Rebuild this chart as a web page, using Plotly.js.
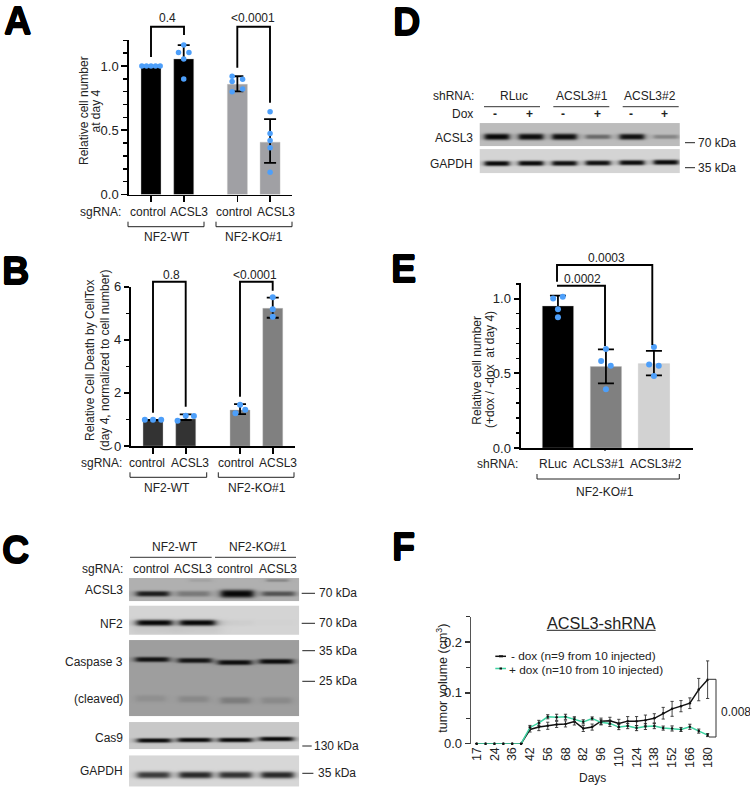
<!DOCTYPE html>
<html><head><meta charset="utf-8">
<script src="https://cdn.plot.ly/plotly-3.0.1.min.js"></script>
<style>html,body{margin:0;padding:0;background:#fff}</style></head>
<body><div id="chart" style="width:750px;height:787px"></div>
<script>
// ---------- Panel A ----------
const aPos = [1, 2, 3.64, 4.64];
const aMeans = [1.0, 1.055, 0.857, 0.407];
const aHigh = [1.0, 1.163, 0.92, 0.586];
const aLow = [1.0, 0.947, 0.803, 0.246];
const aDotGroup = [0,0,0,0,0, 1,1,1,1,1, 2,2,2,2,2, 3,3,3,3,3];
const aDotOffset = [-.28,-.14,0,.14,.28, 0,-.16,.16,0,0, -.16,.16,-.16,.16,-.16, 0,0,0,0,0];
const aDots = [1,1,1,1,1, 1.163,1.104,1.104,1.055,0.899, 0.92,0.897,0.879,0.82,0.799, 0.643,0.475,0.42,0.363,0.174];
// ---------- Panel B ----------
const bPos = [1, 2, 3.66, 4.66];
const bMeans = [0.98, 1.02, 1.356, 5.185];
const bHigh = [0.98, 1.19, 1.58, 5.59];
const bLow = [0.98, 0.98, 1.2, 4.83];
const bDotGroup = [0,0,0, 1,1,1, 2,2,2, 3,3,3];
const bDotOffset = [-.25,0,.25, -.25,0,.25, -.14,0,.16, 0,0,0];
const bDots = [.99,.99,.99, .954,1.14,1.13, 1.23,1.557,1.37, 5.6,5.15,4.87];
// ---------- Panel E ----------
const ePos = [1, 2, 3];
const eMeans = [0.951, 0.545, 0.565];
const eHigh = [1.02, 0.661, 0.65];
const eLow = [0.88, 0.433, 0.487];
const eDotGroup = [0,0,0,0, 1,1,1,1, 2,2,2,2];
const eDotOffset = [-.1,.1,0,0, 0,-.1,.1,0, 0,-.1,.1,0];
const eDots = [1.002,1.013,.929,.875, .663,.583,.551,.393, .676,.56,.551,.482];
// ---------- Panel F ----------
const days = [17,21,24,28,36,39,42,49,56,63,68,75,82,89,96,103,110,117,124,131,138,145,152,159,166,173,180];
const dayLabels = ['17','24','36','42','56','68','82','96','110','124','138','152','166','180'];
const minusDox = [0,0,0,0,0,0,.028,.0327,.0353,.038,.039,.0438,.03,.0327,.0444,.045,.04,.0444,.0444,.0464,.05,.06,.0686,.0739,.0797,.1065,.126];
const minusErr = [0,0,0,0,0,0,.005,.007,.007,.006,.006,.007,.006,.006,.006,.007,.008,.009,.009,.01,.009,.0115,.0147,.011,.0105,.022,.037];
const plusDox = [0,0,0,0,0,0,.032,.041,.053,.052,.053,.048,.043,.0497,.042,.04,.0327,.0346,.0307,.034,.0346,.0307,.03,.028,.0333,.0248,.017];
const plusErr = [0,0,0,0,0,0,.004,.005,.004,.006,.005,.005,.004,.003,.005,.006,.005,.005,.005,.006,.005,.004,.005,.004,.005,.004,.003];
// ---------- Blot band strengths, one value per lane ----------
const cAcsl3 = [.88, .32, 1, .55];
const cNf2 = [1, 1, .03, .01];
const cCasp = [.92, .9, .95, .95];
const cCleaved = [.12, .18, .28, .17];
const cCas9 = [.97, .97, .97, .98];
const cGapdh = [.8, .9, .85, .9];
const dLanes = [496.5, 530.5, 564, 597.5, 631.5, 665.5];
const dAcsl3 = [1, .97, .97, .45, .95, .3];
const dGapdh = [.98, .98, .95, .95, .97, .98];

const W = 750, H = 787;
const X = p => p / W, Y = p => 1 - p / H;
const INK = '#222222', DOT = '#4d9ffa';
const fontName = 'Liberation Sans, Arial, sans-serif';

const traces = [], shapes = [], anns = [];
const T = (text, x, y, o = {}) => anns.push({text, x: X(x), y: Y(y), xref: 'paper', yref: 'paper',
  xanchor: o.a || 'center', yanchor: 'middle', showarrow: false, textangle: o.rot || 0, borderpad: 0,
  font: Object.assign({family: fontName, size: o.size || 12, color: o.color || INK}, o.weight ? {weight: o.weight} : {}, o.shadow ? {shadow: o.shadow} : {})});
const L = (pts, w = 1.9, c = '#000') => shapes.push({type: 'path', xref: 'paper', yref: 'paper',
  path: pts.map((p, i) => (i ? 'L' : 'M') + X(p[0]) + ',' + Y(p[1])).join(' '), line: {width: w, color: c}, layer: 'above'});
const groupBracket = (x0, x1, y, up = 5) => L([[x0, y - up], [x0, y], [x1, y], [x1, y - up]], 1, '#222');

function bars(pos, means, high, low, colors, width, capw, dx, dy, dotGroup, dotOffset, dots, dotSize) {
  traces.push({type: 'bar', x: pos, y: means, width, xaxis: dx, yaxis: dy, hoverinfo: 'skip',
    marker: {color: colors, line: {color: 'rgba(190,190,190,.6)', width: .6}},
    error_y: {type: 'data', symmetric: false, array: high.map((h, i) => h - means[i]),
      arrayminus: low.map((l, i) => means[i] - l), color: '#000', thickness: 1.8, width: capw}});
  traces.push({type: 'scatter', mode: 'markers', x: dotGroup.map((g, i) => pos[g] + dotOffset[i]), y: dots,
    xaxis: dx, yaxis: dy, hoverinfo: 'skip', marker: {color: DOT, size: dotSize}});
}
bars(aPos, aMeans, aHigh, aLow, ['#000', '#000', '#a0a0a4', '#a0a0a4'], .61, 6, 'x', 'y', aDotGroup, aDotOffset, aDots, 5.5);
bars(bPos, bMeans, bHigh, bLow, ['#333', '#333', '#808080', '#808080'], .61, 6, 'x2', 'y2', bDotGroup, bDotOffset, bDots, 6);
bars(ePos, eMeans, eHigh, eLow, ['#000', '#808080', '#d2d2d2'], .65, 8, 'x3', 'y3', eDotGroup, eDotOffset, eDots, 6);

// panel F series
const idx = days.map((_, i) => i);
traces.push({type: 'scatter', mode: 'lines+markers', x: idx, y: minusDox, xaxis: 'x4', yaxis: 'y4', hoverinfo: 'skip', cliponaxis: false,
  line: {color: '#111', width: 1.5}, marker: {color: '#111', size: 2.5},
  error_y: {type: 'data', array: minusErr, color: '#333', thickness: .9, width: 1.6}});
traces.push({type: 'scatter', mode: 'lines+markers', x: idx, y: plusDox, xaxis: 'x4', yaxis: 'y4', hoverinfo: 'skip', cliponaxis: false,
  line: {color: '#3ed3a2', width: 1.5}, marker: {color: '#111', size: 2.5},
  error_y: {type: 'data', array: plusErr, color: '#222', thickness: .9, width: 1.6}});

// blots, drawn as heatmaps on a full-page hidden axis pair
function blot(x0, x1, y0, y1, bg, rows) {
  const z = [];
  for (let y = y0; y < y1; y += .5) {
    const row = [];
    for (let x = x0; x < x1; x += .5) {
      let v = bg;
      for (const r of rows) r.lanes.forEach((c, i) => {
        const dx = (x - c) / ((r.ws ? r.ws[i] : r.w) / 2), dy = (y - r.cy - (r.tilt ? r.tilt[i] : 0)) / (r.hs ? r.hs[i] : r.h);
        const s = Math.exp(-Math.pow(dy * dy, 1.4)) / (1 + Math.pow(dx * dx, 4));
        v -= (v - r.min) * r.s[i] * s;
      });
      row.push(v);
    }
    z.push(row);
  }
  traces.push({type: 'heatmap', z, x0, dx: .5, y0, dy: .5, xaxis: 'x5', yaxis: 'y5', zmin: 0, zmax: 255,
    colorscale: [[0, '#000'], [1, '#fff']], showscale: false, hoverinfo: 'skip', zsmooth: 'best'});
}
blot(129.3, 299.3, 578.3, 600.7, 176, [
  {lanes: [200, 277], s: [.12, .35], cy: 580, w: 22, h: 1.5, min: 60},
  {lanes: [152.3, 193, 236.7, 278], s: cAcsl3, hs: [2.8, 3, 4, 2.6], cy: 593.3, w: 33, h: 3, min: 8}]);
blot(129.3, 299.3, 606, 635, 212, [
  {lanes: [154, 197], s: [.1, .1], cy: 627, w: 46, h: 7, min: 100},
  {lanes: [154, 197, 235, 276], s: cNf2, cy: 622.3, w: 36, h: 3, min: 6}]);
blot(129.3, 299.3, 640.3, 716, 158, [
  {lanes: [151.7, 194.3, 234.3, 275.7], s: cCasp, tilt: [-1, 0, 2, 1], cy: 660, w: 34, h: 2.6, min: 5},
  {lanes: [150, 193, 235, 276], s: cCleaved, tilt: [-1, -.3, 1, 1], cy: 699, w: 30, h: 3.5, min: 40}]);
blot(129.3, 299.3, 722.3, 749.3, 200, [{lanes: [153.5, 194, 235, 276], s: cCas9, tilt: [.5, 0, 0, -1], cy: 739.5, w: 34, h: 2.3, min: 5}]);
blot(129.3, 299.3, 755.7, 786.7, 215, [{lanes: [153, 195, 235, 277], s: cGapdh, cy: 774.5, w: 33, h: 3.4, min: 20}]);
blot(480, 680, 123.3, 146, 188, [{lanes: dLanes, s: dAcsl3, hs: [3.2, 3.2, 3.2, 2.4, 3, 2.2], cy: 136.3, w: 25, h: 3, min: 8}]);
blot(480, 680, 149.3, 172.7, 212, [{lanes: dLanes, s: dGapdh, tilt: [.5, .3, .3, 0, -.3, -.7], cy: 162.5, w: 25, h: 2.6, min: 6}]);

// ---------- annotations and furniture ----------
const heavy = '.6px 0 0 #000, -.6px 0 0 #000, 0 .6px 0 #000, 0 -.6px 0 #000';
[['A', 17, 21], ['B', 15, 271], ['C', 15, 550], ['D', 406, 22], ['E', 404, 269], ['F', 403, 547]]
  .forEach(p => T(p[0], p[1], p[2], {size: 38, weight: 700, color: '#000', shadow: heavy}));

// A
L([[151, 57], [151, 26.7], [184, 26.7], [184, 35]]);
L([[237.3, 67.7], [237.3, 26.7], [270, 26.7], [270, 102.7]]);
T('0.4', 167.7, 17.7); T('&lt;0.0001', 253.3, 18.3);
T('Relative cell number', 84, 111, {rot: -90}); T('at day 4', 95.5, 111, {rot: -90});
T('sgRNA:', 122, 212, {a: 'right'});
['control', 'ACSL3', 'control', 'ACSL3'].forEach((t, i) => T(t, [148, 188.7, 234, 276][i], 212));
groupBracket(128, 204, 226.7); groupBracket(216, 292, 226.7);
T('NF2-WT', 166.7, 237); T('NF2-KO#1', 254, 237);

// B
L([[153, 412.7], [153, 281.7], [185.7, 281.7], [185.7, 406.7]]);
L([[240, 396.7], [240, 281.7], [272.7, 281.7], [272.7, 290.7]]);
T('0.8', 171.7, 275); T('&lt;0.0001', 255, 275);
T('Relative Cell Death by CellTox', 90, 361, {rot: -90}); T('(day 4, normalized to cell number)', 105, 361, {rot: -90});
T('sgRNA:', 122.7, 462.7, {a: 'right'});
['control', 'ACSL3', 'control', 'ACSL3'].forEach((t, i) => T(t, [147, 190, 236, 278.3][i], 462.7));
groupBracket(130, 206.7, 477.3); groupBracket(218.3, 294, 477.3);
T('NF2-WT', 167.3, 488.3); T('NF2-KO#1', 256.7, 488.3);

// C
T('NF2-WT', 175, 546.7); T('NF2-KO#1', 258.3, 546.7);
L([[130, 557.3], [211.7, 557.3]], 1, '#333'); L([[215, 557.3], [296, 557.3]], 1, '#333');
T('sgRNA:', 124, 569, {a: 'right'});
['control', 'ACSL3', 'control', 'ACSL3'].forEach((t, i) => T(t, [150.7, 193.3, 235.3, 277.7][i], 569));
[['ACSL3', 590], ['NF2', 624.3], ['Caspase 3', 661.7], ['(cleaved)', 699.3], ['Cas9', 737.7], ['GAPDH', 770.7]]
  .forEach(p => T(p[0], 124, p[1], {a: 'right'}));
[['70 kDa', 593.3, 301.7, 318.3], ['70 kDa', 623.3, 301.7, 318.3], ['35 kDa', 650.7, 302.3, 318.3],
 ['25 kDa', 681.3, 302.3, 318.3], ['130 kDa', 746, 302.3, 312.7], ['35 kDa', 773.3, 302.3, 316.7]].forEach(p => {
  T(p[0], p[3], p[1], {a: 'left'}); L([[p[2], p[1]], [p[3] - (p[0] === '130 kDa' ? 1 : 3.3), p[1]]], 1, '#222');
});

// D
T('shRNA:', 475, 96, {a: 'right'});
T('RLuc', 514, 96); T('ACSL3#1', 581.7, 96); T('ACSL3#2', 650, 96);
[[484, 540], [553.3, 609.3], [622.7, 678.7]].forEach(s => L([[s[0], 106.7], [s[1], 106.7]], 1, '#333'));
T('Dox', 474, 114.3, {a: 'right'});
['-', '+', '-', '+', '-', '+'].forEach((t, i) => T('<b>' + t + '</b>', [495.3, 529.3, 562.7, 597, 630.7, 664.3][i], 114.3));
T('ACSL3', 474.3, 137.7, {a: 'right'}); T('GAPDH', 474.3, 164, {a: 'right'});
T('70 kDa', 697.3, 142.7, {a: 'left'}); T('35 kDa', 697.3, 167.7, {a: 'left'});
L([[685, 142.7], [695, 142.7]], 1, '#222'); L([[685, 167.7], [695, 167.7]], 1, '#222');

// E
L([[557, 281.7], [557, 265], [652.3, 265], [652.3, 345]]);
L([[557, 285.7], [605, 285.7], [605, 346]]);
T('0.0002', 582.3, 279); T('0.0003', 606, 258.3);
T('Relative cell number', 476.7, 370, {rot: -90}); T('(+dox / -dox  at day 4)', 490, 370, {rot: -90});
T('shRNA:', 519.3, 464, {a: 'right'});
T('RLuc', 553, 464); T('ACLS3#1', 599, 464); T('ACSL3#2', 655.7, 464);
groupBracket(537, 679.3, 479); T('NF2-KO#1', 605, 492.3);
L([[605, 448], [605, 451]], 1.2, '#000');

// F
T('ACSL3-shRNA', 601, 622.7, {size: 16.3});
L([[546.7, 630.3], [655.7, 630.3]], 1, '#222');
T('tumor volume (cm<sup>3</sup>)', 441.7, 678, {rot: -90, size: 12.5});
T('Days', 592.7, 778);
T('- dox (n=9 from 10 injected)', 510, 656.2, {a: 'left', size: 11.8});
T('+ dox (n=10 from 10 injected)', 508.3, 670, {a: 'left', size: 11.8});
L([[495.3, 656.3], [506, 656.3]], 1.5, '#111'); L([[495.3, 668.5], [506, 668.5]], 1.5, '#3ed3a2');
L([[499, 656.3], [503, 656.3]], 2, '#111'); L([[499.5, 668.5], [502, 668.5]], 2, '#111');
L([[709, 679.3], [716, 679.3], [716, 737], [709, 737]], 1, '#333');
T('0.008', 720, 711.7, {a: 'left'});

// ---------- axes ----------
const axFont = {family: fontName, size: 13, color: INK};
const dom = (a, b) => [a / W, b / W], vdom = (bot, top) => [1 - bot / H, 1 - top / H];
const xax = (a, b, range, tickvals, anchor) => ({domain: dom(a, b), range, tickvals, showticklabels: false,
  tickmode: 'array', ticks: 'outside', ticklen: 6, tickwidth: 1.7, tickcolor: '#000', showline: true, linecolor: '#000', linewidth: 1.7,
  showgrid: false, zeroline: false, anchor, fixedrange: true});
const yax = (bot, top, range, tickvals, ticktext, minor, anchor) => ({domain: vdom(bot, top), range, tickmode: 'array', tickvals, ticktext,
  ticks: 'outside', ticklen: 5.5, tickwidth: 1.7, tickcolor: '#000', showline: true, linecolor: '#000', linewidth: 1.7, showgrid: false,
  zeroline: false, anchor, tickfont: axFont, fixedrange: true,
  minor: {tickmode: 'linear', tick0: 0, dtick: minor, ticks: 'outside', ticklen: 3.5, tickwidth: 1.5, tickcolor: '#000', showgrid: false}});

const fx = {domain: dom(471, 711.7), range: [-.64, 26.46], tickmode: 'array', tickvals: idx.filter(i => i % 2 === 0), ticktext: dayLabels,
  tickangle: -90, ticks: '', showline: false, showgrid: false, zeroline: false, anchor: 'y4',
  tickfont: {family: fontName, size: 12.5, color: INK}, fixedrange: true};
const fy = yax(743.7, 616.7, [0, .25], [0, .1, .2], ['0.0', '0.1', '0.2'], .05, 'x4');
Object.assign(fy, {linecolor: '#555', linewidth: 1.3, tickcolor: '#333', tickwidth: 1.2, ticklen: 5});
fy.minor.tickcolor = '#333'; fy.minor.tickwidth = 1;

const layout = {
  width: W, height: H, margin: {l: 0, r: 0, t: 0, b: 0, pad: 0}, paper_bgcolor: '#fff', plot_bgcolor: 'rgba(0,0,0,0)',
  showlegend: false, barmode: 'overlay', font: {family: fontName, color: INK},
  xaxis: xax(128.5, 292, [.312, 5.31], aPos, 'y'),
  yaxis: yax(194.5, 39.5, [0, 1.206], [0, .5, 1], ['0.0', '0.5', '1.0'], .1, 'x'),
  xaxis2: xax(131, 295, [.327, 5.34], bPos, 'y2'),
  yaxis2: yax(446, 286.7, [0, 6], [0, 2, 4, 6], ['0', '2', '4', '6'], 1, 'x2'),
  xaxis3: Object.assign(xax(520.7, 693.3, [.224, 3.82], ePos, 'y3'), {ticks: ''}),
  yaxis3: yax(448, 283.3, [0, 1.103], [0, .5, 1], ['0.0', '0.5', '1.0'], .1, 'x3'),
  xaxis4: fx, yaxis4: fy,
  xaxis5: {domain: [0, 1], range: [0, W], visible: false, fixedrange: true, anchor: 'y5'},
  yaxis5: {domain: [0, 1], range: [H, 0], visible: false, fixedrange: true, anchor: 'x5'},
  shapes, annotations: anns
};
Plotly.newPlot('chart', traces, layout, {displayModeBar: false, staticPlot: true});
</script></body></html>
